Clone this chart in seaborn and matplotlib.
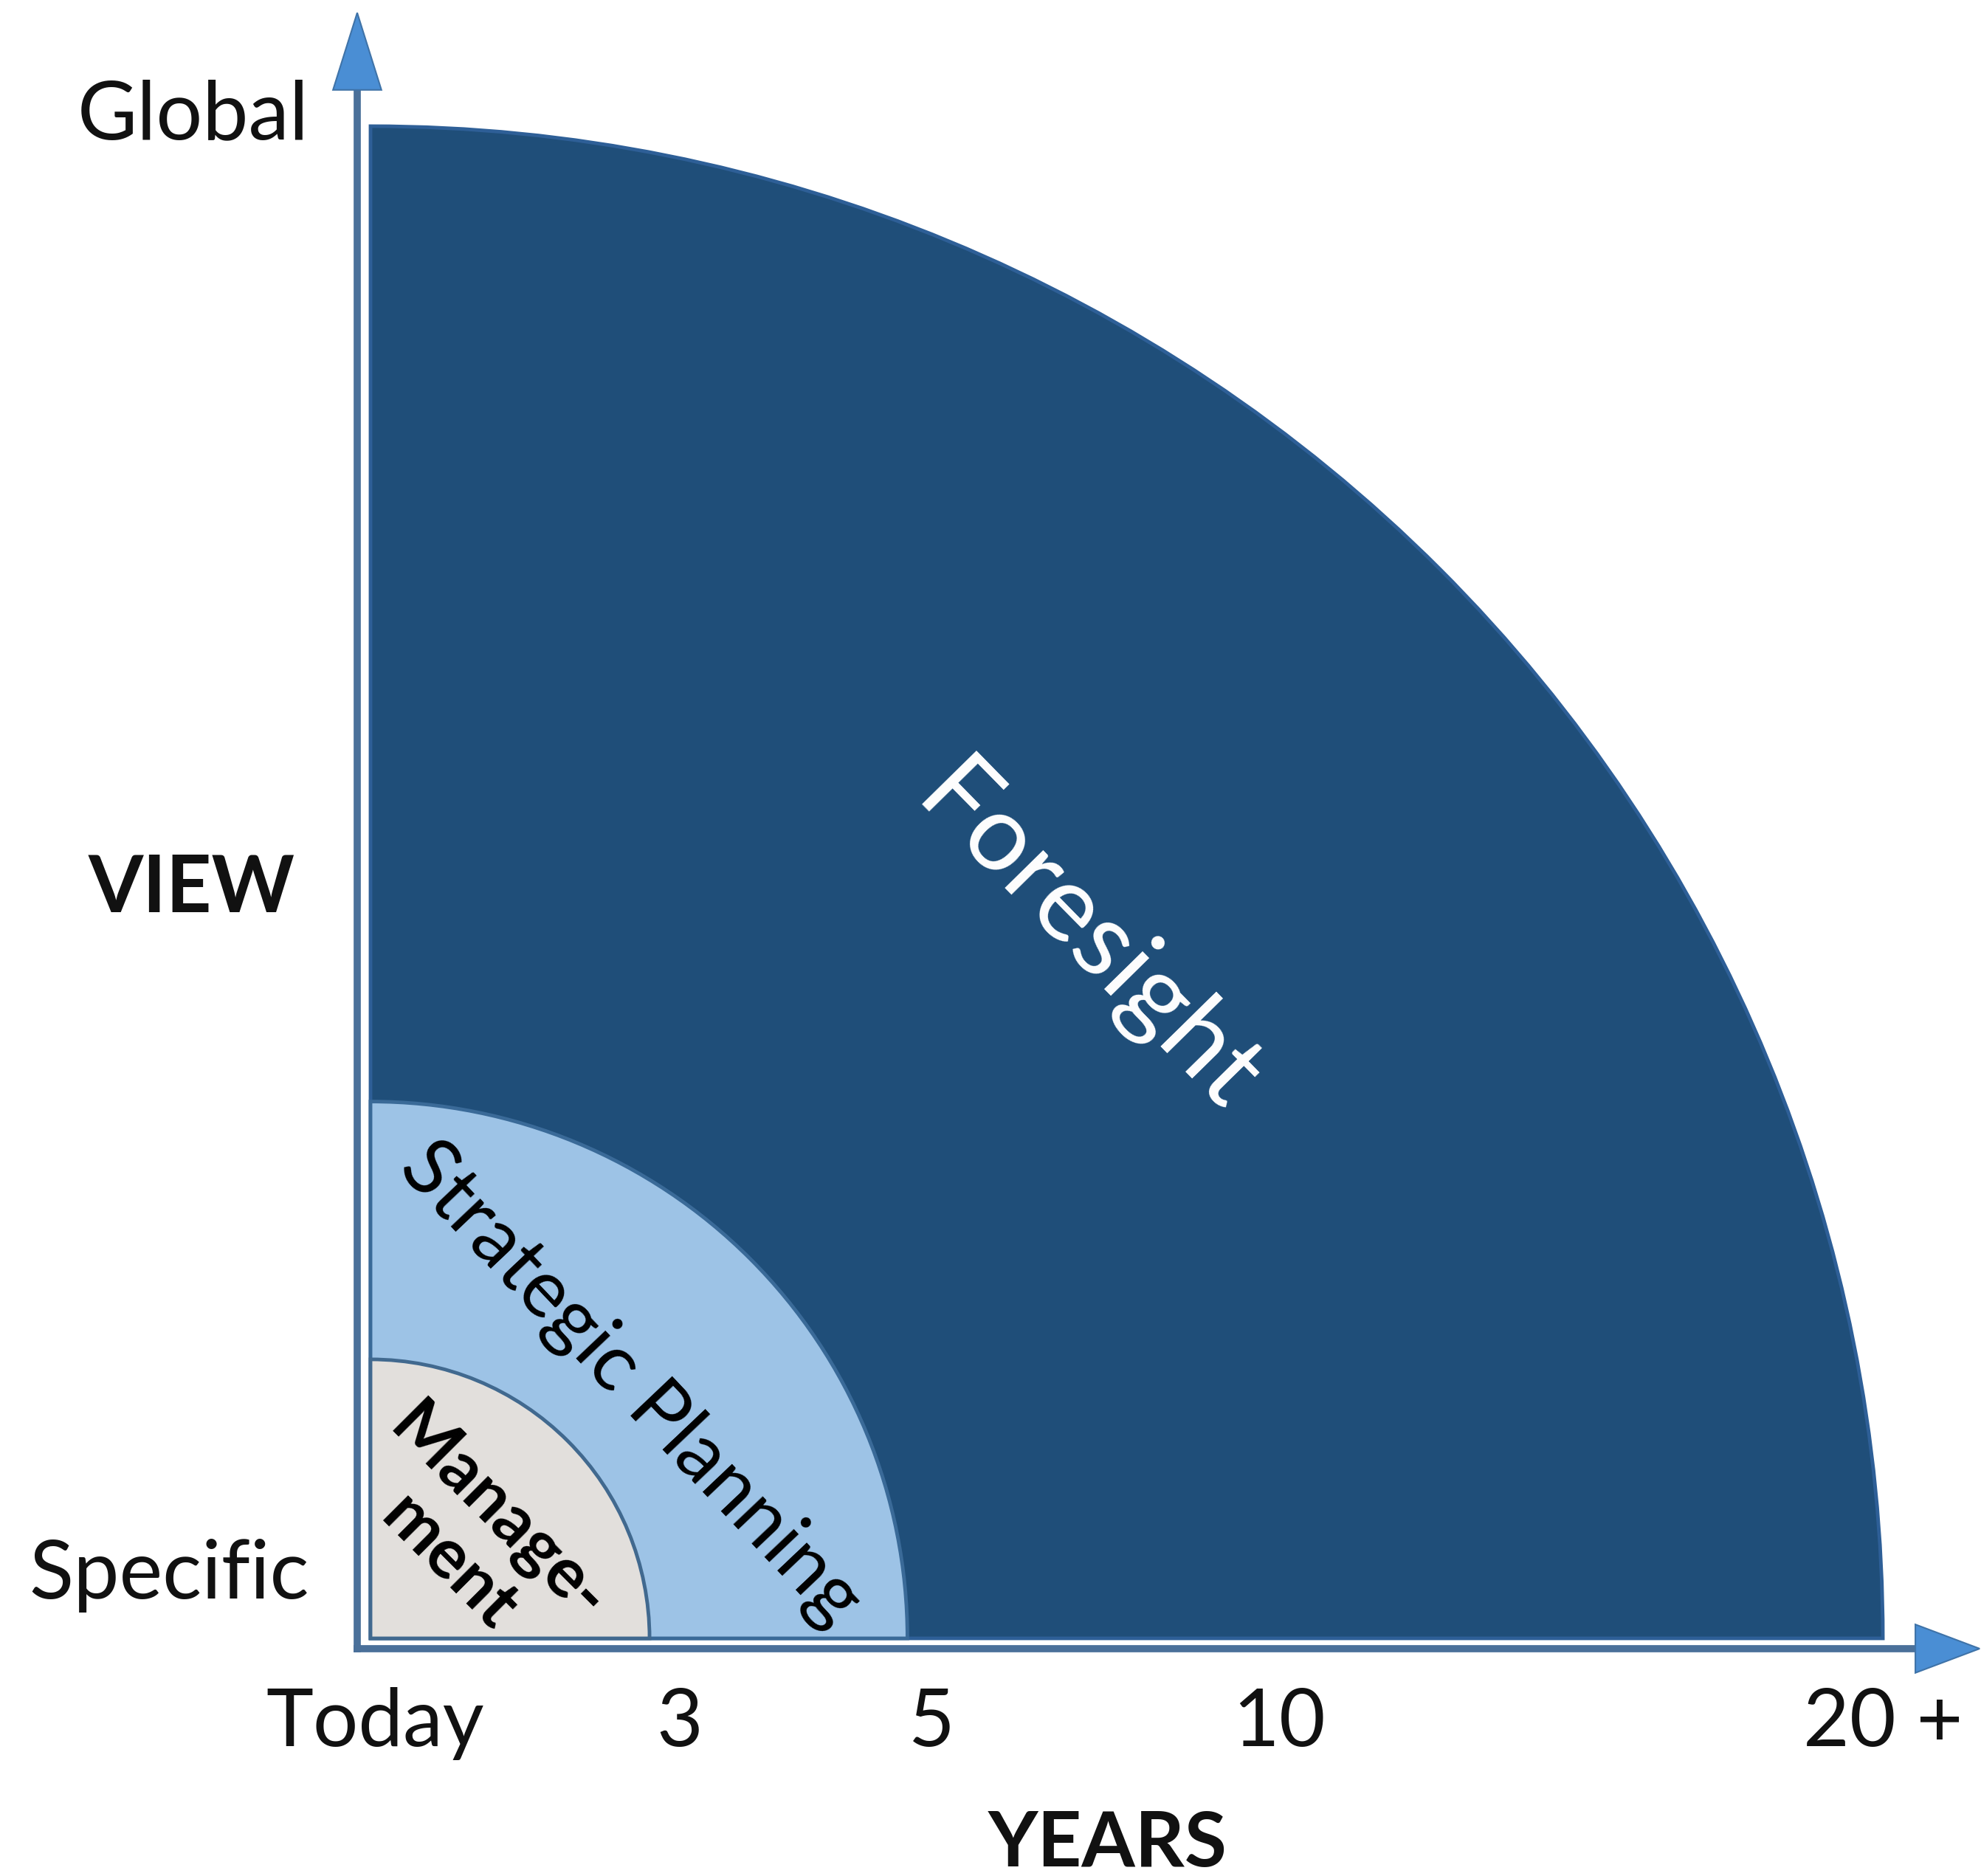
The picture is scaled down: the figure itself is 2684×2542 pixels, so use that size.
import matplotlib
matplotlib.use("Agg")
import matplotlib.pyplot as plt
from matplotlib.patches import Wedge, Polygon
import seaborn as sns

# --- data -------------------------------------------------------------
regions = ["Foresight", "Strategic Planning", "Manage-\nment"]
region_reach = [10.0, 3.55, 1.845]          # outer radius, axis units
region_fill = ["#1F4E79", "#9DC3E6", "#E2DFDC"]
region_edge = ["#2E5F97", "#3A6A98", "#41698F"]
region_text_color = ["white", "black", "black"]

year_labels = ["Today", "3", "5", "10", "20 +"]
year_pos = [0.03, 2.045, 3.71, 6.01, 10.0]

view_labels = ["Specific", "Global"]
view_pos = [0.264, 9.917]

# --- style ------------------------------------------------------------
sns.set_theme(style="white")
plt.rcParams["font.family"] = ["Lato", "DejaVu Sans"]

fig = plt.figure(figsize=(26.84, 25.42), dpi=100)
fig.patch.set_facecolor("white")
ax = fig.add_axes([0, 0, 1, 1])
ax.set_xlim(-2.45, 10.649)
ax.set_ylim(-1.571, 10.834)
ax.set_aspect("equal")
ax.axis("off")

# quarter discs, largest first
for name, r, fc, ec in zip(regions, region_reach, region_fill, region_edge):
    ax.add_patch(Wedge((0, 0), r, 0, 90, facecolor=fc, edgecolor=ec,
                       linewidth=3.5, zorder=2))

# region labels
label_xy = [(4.74, 4.62), (1.72, 1.68), (0.68, 0.66)]
label_rot = [-45.5, -46.5, -45]
label_size = [104, 78, 68]
label_weight = ["normal", "normal", "bold"]
for name, (x, y), rot, fs, fw, col in zip(regions, label_xy, label_rot,
                                          label_size, label_weight,
                                          region_text_color):
    ax.text(x, y, name, rotation=rot, rotation_mode="anchor", ha="center",
            va="center", fontsize=fs, fontweight=fw, color=col,
            multialignment="center", linespacing=1.1, zorder=5)

# axes arrows
line_col = "#4A709A"
head_col = "#4A8ED4"
ax0x, ax0y = -0.088, -0.068
ax.plot([ax0x, ax0x], [ax0y - 0.025, 10.3], color=line_col, lw=7,
        solid_capstyle="butt", zorder=3)
ax.plot([ax0x - 0.025, 10.25], [ax0y, ax0y], color=line_col, lw=7,
        solid_capstyle="butt", zorder=3)
ax.add_patch(Polygon([[ax0x - 0.16, 10.24], [ax0x + 0.16, 10.24],
                      [ax0x, 10.75]], closed=True, facecolor=head_col,
                     edgecolor="#3F73A8", lw=1.5, zorder=4))
ax.add_patch(Polygon([[10.215, ax0y - 0.16], [10.215, ax0y + 0.16],
                      [10.64, ax0y]], closed=True, facecolor=head_col,
                     edgecolor="#3F73A8", lw=1.5, zorder=4))

# tick labels
for lab, x in zip(year_labels, year_pos):
    ax.text(x, -0.713, lab, ha="center", va="baseline", fontsize=78,
            color="#111111")
for lab, y in zip(view_labels, view_pos):
    ax.text(-0.405, y, lab, ha="right", va="baseline", fontsize=80,
            color="#111111")

ax.text(4.876, -1.508, "YEARS", ha="center", va="baseline", fontsize=75,
        fontweight="bold", color="#111111")
ax.text(-1.181, 4.802, "VIEW", ha="center", va="baseline", fontsize=77,
        fontweight="bold", color="#111111")

fig.savefig("out.png", dpi=100, facecolor="white")
plt.close(fig)
